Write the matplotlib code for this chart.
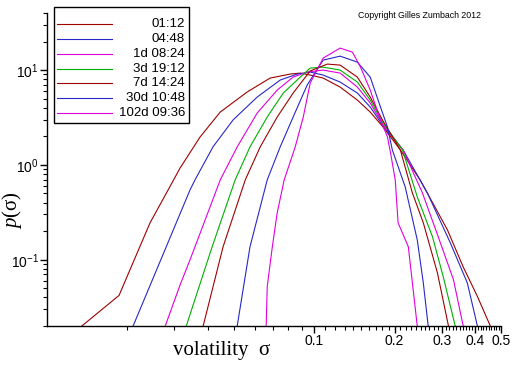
import numpy as np
import matplotlib
matplotlib.use('Agg')
import matplotlib.pyplot as plt
from matplotlib.ticker import FixedLocator, NullFormatter, FixedFormatter, LogLocator

plt.rcParams['font.family'] = ['Liberation Sans', 'DejaVu Sans']
plt.rcParams['mathtext.fontset'] = 'custom'
plt.rcParams['mathtext.rm'] = 'Liberation Sans'
plt.rcParams['mathtext.it'] = 'Liberation Serif:italic'

# volatility distributions, one curve per horizon
labels = ['01:12', '04:48', '1d 08:24', '3d 19:12', '7d 14:24', '30d 10:48', '102d 09:36']
colors = ['#a00000', '#2828c8', '#e000e0', '#00b000', '#a00000', '#2828c8', '#e000e0']

s_0112 = [0.0135, 0.0186, 0.0243, 0.0284, 0.0315, 0.0374, 0.0445, 0.0561, 0.0684, 0.0813, 0.0887,
          0.0966, 0.108, 0.125, 0.145, 0.162, 0.181, 0.210, 0.249, 0.315, 0.361, 0.408, 0.456]
p_0112 = [0.02, 0.042, 0.245, 0.545, 0.93, 1.97, 3.61, 5.87, 8.24, 9.08, 9.30,
          8.86, 8.24, 6.62, 4.83, 3.61, 2.51, 1.44, 0.695, 0.207, 0.084, 0.041, 0.02]

s_0448 = [0.0210, 0.0343, 0.0358, 0.0418, 0.0497, 0.0612, 0.0746, 0.0864, 0.0966, 0.108, 0.125,
          0.145, 0.162, 0.181, 0.215, 0.265, 0.323, 0.374, 0.408]
p_0448 = [0.02, 0.545, 0.695, 1.55, 2.98, 5.20, 7.85, 9.08, 9.53, 8.86, 7.48,
          5.73, 4.08, 2.58, 1.44, 0.507, 0.151, 0.057, 0.02]

s_1d = [0.0277, 0.0315, 0.0343, 0.0358, 0.0445, 0.0515, 0.0612, 0.0727, 0.0834, 0.0942, 0.108,
        0.125, 0.145, 0.162, 0.181, 0.215, 0.254, 0.291, 0.332, 0.361]
p_1d = [0.02, 0.0545, 0.1, 0.137, 0.695, 1.55, 3.53, 6.16, 8.44, 9.53, 10.0,
        9.30, 6.62, 4.50, 2.64, 1.44, 0.507, 0.175, 0.0615, 0.02]

s_3d = [0.0332, 0.0415, 0.0506, 0.0575, 0.0667, 0.0766, 0.0887, 0.0966, 0.108, 0.125, 0.145,
        0.162, 0.181, 0.214, 0.243, 0.277, 0.304, 0.337]
p_3d = [0.02, 0.137, 0.695, 1.55, 3.20, 5.73, 8.44, 10.5, 10.75, 10.0, 7.48,
        4.83, 2.77, 1.44, 0.460, 0.175, 0.066, 0.02]

s_7d = [0.0384, 0.0456, 0.0552, 0.0628, 0.0727, 0.0834, 0.0966, 0.112, 0.125, 0.145, 0.162,
        0.180, 0.210, 0.233, 0.256, 0.289, 0.318]
p_7d = [0.02, 0.137, 0.695, 1.55, 3.20, 5.73, 9.8, 11.57, 11.29, 8.44, 5.20,
        2.98, 1.44, 0.507, 0.245, 0.073, 0.02]

s_30d = [0.0515, 0.0575, 0.0667, 0.0746, 0.0834, 0.0942, 0.108, 0.125, 0.145, 0.162, 0.177,
         0.188, 0.196, 0.219, 0.243, 0.256, 0.267]
p_30d = [0.02, 0.137, 0.695, 1.55, 3.20, 7.0, 12.74, 14.03, 12.14, 8.44, 4.08,
         2.51, 1.44, 0.586, 0.162, 0.057, 0.02]

s_102d = [0.0661, 0.0667, 0.0697, 0.0727, 0.0772, 0.0849, 0.0910, 0.0966, 0.108, 0.125, 0.139,
          0.149, 0.162, 0.177, 0.188, 0.193, 0.201, 0.206, 0.225, 0.233, 0.243]
p_102d = [0.02, 0.052, 0.137, 0.313, 0.695, 1.55, 3.20, 7.30, 13.37, 17.06, 15.46,
          10.75, 6.16, 2.98, 1.97, 1.34, 0.695, 0.245, 0.137, 0.057, 0.02]

xs = [s_0112, s_0448, s_1d, s_3d, s_7d, s_30d, s_102d]
ys = [p_0112, p_0448, p_1d, p_3d, p_7d, p_30d, p_102d]

fig = plt.figure(figsize=(5.12, 3.66), dpi=100)
ax = fig.add_axes([47/512, 1-326/366, 454/512, 313/366])

for x, y, c, lab in zip(xs, ys, colors, labels):
    ax.plot(x, y, color=c, lw=0.8, label=lab)

ax.set_xscale('log')
ax.set_yscale('log')
ax.set_xlim(0.01, 0.5)
ax.set_ylim(0.02, 40)

for side in ['top', 'right']:
    ax.spines[side].set_visible(False)
for side in ['left', 'bottom']:
    ax.spines[side].set_linewidth(1.0)

major_x = [0.1, 0.2, 0.3, 0.4, 0.5]
minor_x = list(np.round(np.arange(0.02, 0.1, 0.01), 3)) + \
          [v for v in np.round(np.arange(0.11, 0.5, 0.01), 3) if v not in major_x]
ax.xaxis.set_major_locator(FixedLocator(major_x))
ax.xaxis.set_major_formatter(FixedFormatter(['0.1', '0.2', '0.3', '0.4', '0.5']))
ax.xaxis.set_minor_locator(FixedLocator(minor_x))
ax.xaxis.set_minor_formatter(NullFormatter())

ax.yaxis.set_major_locator(LogLocator(base=10, numticks=10))
ax.yaxis.set_minor_locator(LogLocator(base=10, subs=np.arange(2, 10), numticks=10))
ax.yaxis.set_minor_formatter(NullFormatter())

ax.tick_params(which='major', direction='out', length=5, width=1, labelsize=10, pad=1)
ax.tick_params(which='minor', direction='out', length=3, width=0.8)

ax.text(0.385, -0.077, 'volatility  σ', transform=ax.transAxes, ha='center', va='center',
        family=['Liberation Serif', 'DejaVu Serif'], fontsize=15)
ax.text(-0.078, 0.37, r'$\mathit{p}$(σ)', transform=ax.transAxes, ha='center', va='center',
        rotation=90, family=['Liberation Serif', 'DejaVu Serif'], fontsize=15)

fig.text(358/512, 1-16/366, 'Copyright Gilles Zumbach 2012', fontsize=6.3, ha='left', va='center')

# legend: labels drawn invisible to size the box, then redrawn right-aligned
leg = ax.legend(loc='upper left', bbox_to_anchor=(7/454, 1+6/313), borderaxespad=0,
                fancybox=False, framealpha=1, edgecolor='black', fontsize=9.5,
                handlelength=4.2, handletextpad=0.6, labelspacing=0.2, borderpad=0.2,
                title=' ', title_fontsize=5)
leg.get_frame().set_linewidth(1.0)
for t in leg.get_texts():
    t.set_alpha(0)
fig.canvas.draw()
renderer = fig.canvas.get_renderer()
fbox = leg.get_frame().get_window_extent(renderer)
inv = fig.transFigure.inverted()
for h, t in zip(leg.legend_handles, leg.get_texts()):
    hb = h.get_window_extent(renderer)
    yc = (hb.y0 + hb.y1) / 2
    xr = fbox.x1 - 4
    fx, fy = inv.transform((xr, yc))
    fig.text(fx, fy, t.get_text(), fontsize=9.5, ha='right', va='center')

plt.savefig('out.png', dpi=100)
